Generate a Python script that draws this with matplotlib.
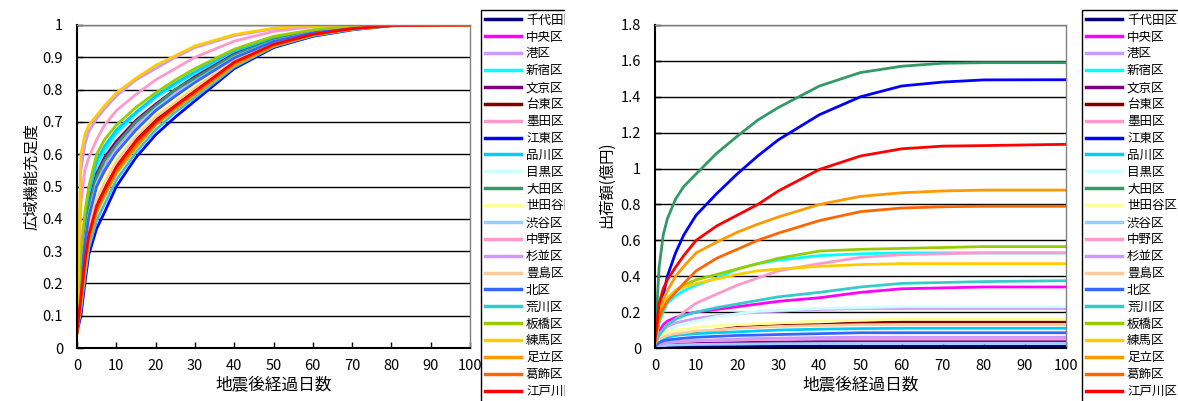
import matplotlib
matplotlib.use("Agg")
import matplotlib.pyplot as plt
from matplotlib.patches import Rectangle
from matplotlib.ticker import FuncFormatter

plt.rcParams['font.family'] = ['Noto Sans CJK JP', 'DejaVu Sans']

# 経過日数（読み取り点）
days = [0, 1, 2, 3, 5, 7, 10, 15, 20, 25, 30, 40, 50, 60, 70, 80, 100]

wards = ['千代田区', '中央区', '港区', '新宿区', '文京区', '台東区', '墨田区', '江東区',
         '品川区', '目黒区', '大田区', '世田谷区', '渋谷区', '中野区', '杉並区', '豊島区',
         '北区', '荒川区', '板橋区', '練馬区', '足立区', '葛飾区', '江戸川区']

colors = ['#000080', '#FF00FF', '#CC99FF', '#00FFFF', '#800080', '#800000', '#FF99CC', '#0000FF',
          '#00CCFF', '#CCFFFF', '#339966', '#FFFF99', '#99CCFF', '#FF99CC', '#CC99FF', '#FFCC99',
          '#3366FF', '#33CCCC', '#99CC00', '#FFCC00', '#FF9900', '#FF6600', '#FF0000']

# 広域機能充足度
suff_chiyoda = [.05, .175, .285, .365, .455, .505, .57, .65, .71, .757, .802, .888, .942, .972, .99, .999, 1]
suff_chuo = [.05, .21, .32, .40, .495, .54, .60, .672, .73, .775, .818, .896, .948, .975, .991, .999, 1]
suff_minato = [.05, .23, .345, .425, .52, .565, .62, .69, .745, .79, .83, .903, .952, .978, .992, .999, 1]
suff_shinjuku = [.05, .27, .39, .47, .565, .61, .665, .725, .775, .815, .85, .917, .959, .982, .995, 1, 1]
suff_bunkyo = [.05, .25, .37, .45, .54, .59, .64, .705, .755, .80, .84, .91, .956, .98, .994, 1, 1]
suff_taito = [.05, .17, .28, .36, .45, .50, .565, .645, .705, .755, .80, .887, .941, .972, .989, .999, 1]
suff_sumida = [.05, .19, .30, .38, .47, .52, .585, .66, .718, .765, .81, .892, .945, .974, .99, .999, 1]
suff_koto = [.05, .10, .20, .29, .37, .42, .50, .59, .66, .715, .765, .865, .93, .965, .985, .998, 1]
suff_shinagawa = [.05, .28, .40, .48, .58, .625, .675, .73, .78, .82, .855, .92, .96, .983, .996, 1, 1]
suff_meguro = [.05, .20, .30, .39, .48, .525, .59, .665, .72, .768, .812, .893, .946, .974, .99, .999, 1]
suff_ota = [.05, .24, .36, .44, .53, .58, .63, .70, .75, .80, .835, .907, .955, .979, .993, .999, 1]
suff_setagaya = [.05, .20, .31, .395, .485, .53, .595, .67, .725, .77, .815, .895, .948, .975, .991, .999, 1]
suff_shibuya = [.05, .22, .33, .41, .51, .555, .61, .68, .74, .785, .825, .90, .95, .977, .992, .999, 1]
suff_nakano = [.05, .45, .55, .59, .645, .69, .735, .785, .83, .865, .90, .95, .98, .995, 1, 1, 1]
suff_suginami = [.05, .55, .63, .67, .71, .74, .78, .83, .865, .90, .93, .967, .988, .997, 1, 1, 1]
suff_toshima = [.05, .18, .29, .37, .46, .51, .575, .655, .715, .76, .805, .89, .943, .973, .99, .999, 1]
suff_kita = [.05, .215, .325, .405, .50, .55, .605, .675, .735, .78, .822, .898, .949, .976, .991, .999, 1]
suff_arakawa = [.05, .12, .22, .31, .395, .445, .52, .605, .675, .73, .775, .87, .933, .967, .986, .998, 1]
suff_itabashi = [.05, .30, .42, .50, .60, .645, .69, .745, .79, .83, .865, .925, .965, .985, .997, 1, 1]
suff_nerima = [.05, .60, .66, .69, .72, .75, .79, .835, .875, .905, .935, .97, .99, .998, 1, 1, 1]
suff_adachi = [.05, .14, .24, .33, .42, .47, .54, .62, .69, .74, .785, .875, .935, .969, .988, .998, 1]
suff_katsushika = [.05, .15, .255, .34, .43, .48, .55, .63, .695, .745, .79, .88, .937, .97, .988, .998, 1]
suff_edogawa = [.05, .16, .27, .35, .44, .49, .56, .64, .70, .75, .795, .885, .94, .971, .989, .998, 1]

# 出荷額(億円)
ship_chiyoda = [0, .003, .004, .005, .006, .006, .007, .008, .008, .009, .009, .01, .01, .01, .01, .01, .01]
ship_chuo = [.02, .09, .13, .15, .17, .185, .20, .215, .23, .245, .26, .28, .31, .33, .335, .34, .34]
ship_minato = [.02, .08, .10, .12, .14, .15, .165, .18, .19, .20, .205, .215, .22, .22, .22, .22, .22]
ship_shinjuku = [.03, .14, .20, .25, .29, .32, .35, .39, .44, .47, .49, .515, .525, .53, .53, .53, .53]
ship_bunkyo = [.005, .012, .015, .018, .02, .022, .025, .028, .03, .032, .034, .037, .04, .04, .04, .04, .04]
ship_taito = [.01, .04, .05, .06, .075, .08, .09, .10, .115, .12, .125, .13, .14, .145, .145, .145, .145]
ship_sumida = [.02, .06, .09, .12, .16, .20, .25, .30, .35, .39, .43, .47, .505, .52, .525, .53, .53]
ship_koto = [.04, .18, .29, .40, .53, .63, .74, .86, .97, 1.07, 1.16, 1.30, 1.40, 1.46, 1.482, 1.494, 1.495]
ship_shinagawa = [.01, .04, .05, .06, .07, .075, .08, .085, .09, .095, .10, .105, .108, .11, .11, .11, .11]
ship_meguro = [.02, .06, .08, .10, .12, .135, .15, .175, .19, .205, .21, .22, .225, .23, .23, .23, .23]
ship_ota = [.04, .45, .63, .72, .83, .90, .97, 1.085, 1.18, 1.27, 1.34, 1.46, 1.535, 1.57, 1.587, 1.59, 1.59]
ship_setagaya = [.02, .06, .08, .09, .10, .105, .115, .125, .13, .135, .14, .15, .155, .16, .16, .16, .16]
ship_shibuya = [.005, .01, .012, .015, .017, .018, .02, .021, .022, .023, .024, .025, .026, .026, .026, .026, .026]
ship_nakano = [.01, .02, .025, .03, .035, .038, .04, .043, .045, .047, .048, .05, .05, .05, .05, .05, .05]
ship_suginami = [.01, .02, .025, .03, .035, .038, .042, .046, .05, .053, .055, .058, .06, .06, .06, .06, .06]
ship_toshima = [.01, .05, .06, .07, .08, .085, .095, .10, .11, .115, .12, .125, .13, .13, .13, .13, .13]
ship_kita = [.01, .03, .04, .045, .05, .055, .06, .065, .07, .072, .075, .08, .085, .085, .085, .085, .085]
ship_arakawa = [.02, .07, .10, .13, .16, .18, .20, .225, .245, .265, .285, .31, .34, .36, .365, .37, .375]
ship_itabashi = [.03, .15, .22, .27, .32, .35, .38, .41, .44, .47, .50, .54, .55, .555, .56, .565, .565]
ship_nerima = [.03, .17, .24, .28, .32, .34, .36, .385, .41, .43, .44, .455, .465, .47, .47, .47, .47]
ship_adachi = [.04, .20, .27, .32, .40, .455, .53, .59, .645, .69, .73, .80, .845, .865, .875, .88, .88]
ship_katsushika = [.04, .17, .22, .26, .31, .36, .43, .50, .55, .60, .64, .71, .76, .78, .787, .79, .79]
ship_edogawa = [.04, .25, .33, .38, .45, .515, .60, .68, .74, .80, .875, .995, 1.07, 1.11, 1.125, 1.128, 1.135]

suff = [suff_chiyoda, suff_chuo, suff_minato, suff_shinjuku, suff_bunkyo, suff_taito, suff_sumida,
        suff_koto, suff_shinagawa, suff_meguro, suff_ota, suff_setagaya, suff_shibuya, suff_nakano,
        suff_suginami, suff_toshima, suff_kita, suff_arakawa, suff_itabashi, suff_nerima, suff_adachi,
        suff_katsushika, suff_edogawa]
ship = [ship_chiyoda, ship_chuo, ship_minato, ship_shinjuku, ship_bunkyo, ship_taito, ship_sumida,
        ship_koto, ship_shinagawa, ship_meguro, ship_ota, ship_setagaya, ship_shibuya, ship_nakano,
        ship_suginami, ship_toshima, ship_kita, ship_arakawa, ship_itabashi, ship_nerima, ship_adachi,
        ship_katsushika, ship_edogawa]

W, H = 1178, 401
fig = plt.figure(figsize=(W / 100, H / 100), dpi=100)
ax1 = fig.add_axes([77 / W, 1 - 348 / H, 393 / W, 323 / H])
ax2 = fig.add_axes([655 / W, 1 - 348 / H, 411 / W, 323 / H])


def style(ax, ymax, ystep, ylabel, ylab_x, ylab_y):
    ax.set_xlim(0, 100)
    ax.set_ylim(0, ymax)
    ax.set_xticks(range(0, 101, 10))
    n = int(round(ymax / ystep))
    ax.set_yticks([round(i * ystep, 2) for i in range(n + 1)])
    ax.yaxis.set_major_formatter(FuncFormatter(lambda v, p: '%g' % round(v, 2)))
    ax.grid(axis='y', color='black', linewidth=1.0)
    ax.set_axisbelow(True)
    for s in ['top', 'right']:
        ax.spines[s].set_color('#808080')
        ax.spines[s].set_linewidth(1.0)
    for s in ['left', 'bottom']:
        ax.spines[s].set_color('black')
        ax.spines[s].set_linewidth(1.5)
    ax.tick_params(direction='in', length=4, width=1, labelsize=10.5, colors='black', pad=8)
    ax.tick_params(axis='y', pad=10)
    ax.set_xlabel('地震後経過日数', fontsize=12)
    ax.xaxis.set_label_coords(0.5, -0.115)
    ax.xaxis.label.set_va('center')
    ax.set_ylabel(ylabel, fontsize=11)
    ax.yaxis.set_label_coords(ylab_x, ylab_y)
    ax.yaxis.label.set_va('center')


for i, name in enumerate(wards):
    ax1.plot(days, suff[i], color=colors[i], linewidth=2.0, label=name, solid_joinstyle='round')
    ax2.plot(days, ship[i], color=colors[i], linewidth=2.0, label=name, solid_joinstyle='round')

style(ax1, 1.0, 0.1, '広域機能充足度', -0.115, 0.53)
style(ax2, 1.8, 0.2, '出荷額(億円)', -0.117, 0.505)

for ax, lx in [(ax1, 481), (ax2, 1082)]:
    leg = ax.legend(loc='upper left', bbox_to_anchor=(lx / W, 1 - 10 / H), bbox_transform=fig.transFigure,
                    borderaxespad=0, fontsize=9, handlelength=2.9, handletextpad=0.4,
                    labelspacing=0.31, borderpad=0.3, fancybox=False, edgecolor='black',
                    framealpha=1)
    leg.get_frame().set_linewidth(1.0)
    for ln in leg.get_lines():
        ln.set_linewidth(2.5)

# 左の凡例は右端が切れている
fig.patches.append(Rectangle((565 / W, 0), 27 / W, 1, transform=fig.transFigure,
                             facecolor='white', edgecolor='none', zorder=10))

fig.savefig('out.png', dpi=100)
